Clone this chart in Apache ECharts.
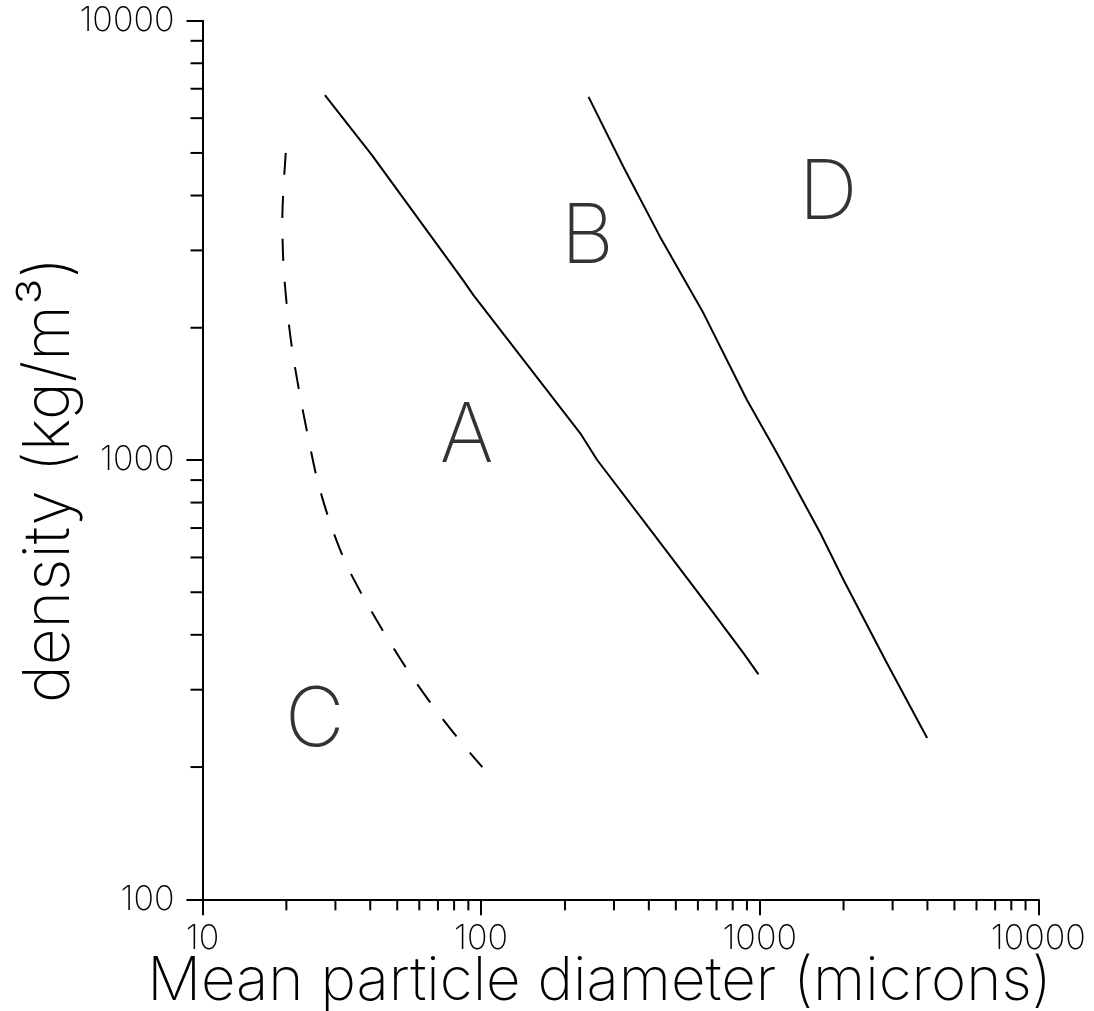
<!DOCTYPE html>
<html>
<head>
<meta charset="utf-8">
<script src="https://cdn.jsdelivr.net/npm/echarts@6/dist/echarts.min.js"></script>
<style>
  html, body { margin: 0; padding: 0; background: #fff; }
  #chart { width: 1094px; height: 1011px; }
</style>
</head>
<body>
<div id="chart"></div>
<script>
// ---- data ----
const boundaryAB = [[27.5, 6770], [40.5, 4950], [86, 2570], [94, 2370], [227, 1150], [261, 1000], [415, 680], [680, 450], [873, 364], [990, 325]];
const boundaryBD = [[243, 6710], [324, 4650], [439, 3220], [628, 2160], [900, 1370], [1153, 1037], [1650, 682], [2000, 533], [2860, 345], [3990, 233]];
const boundaryAC = [[19.9, 5000], [19.35, 3550], [19.5, 2830], [20.1, 2230], [21.0, 1780], [22.3, 1420], [23.9, 1134], [25.8, 904], [28.5, 730], [32.5, 587], [38.3, 480], [45.9, 395], [55.6, 326], [68.4, 271], [85.2, 227], [101, 200]];
const regionNames = ['A', 'B', 'C', 'D'];
const regionX = [88.7, 241, 25.3, 1760];
const regionY = [1128, 3190, 254, 4030];
const xMinorTicks = [20, 30, 40, 50, 60, 70, 80, 90, 200, 300, 400, 500, 600, 700, 800, 900, 2000, 3000, 4000, 5000, 6000, 7000, 8000, 9000];
const yMinorTicks = [200, 300, 400, 500, 600, 700, 800, 900, 2000, 3000, 4000, 5000, 6000, 7000, 8000, 9000];
const xTitle = 'Mean particle diameter (microns)';
const yTitle = 'density (kg/m\u00B3)';

const FONT = 'Inter, "Open Sans", "DejaVu Sans", sans-serif';
const chart = echarts.init(document.getElementById('chart'), null, { renderer: 'canvas' });

const lineStyleBase = { color: '#000', width: 2 };
const plain = v => String(Math.round(v));

chart.setOption({
  backgroundColor: '#fff',
  animation: false,
  grid: { left: 202.5, right: 55.7, top: 20.7, bottom: 111.7, containLabel: false, outerBoundsMode: 'none' },
  xAxis: {
    type: 'log', logBase: 10, min: 10, max: 10000,
    axisLine: { show: true, lineStyle: { color: '#000', width: 2 } },
    axisTick: { show: true, inside: false, length: 16, lineStyle: { color: '#000', width: 2 } },
    axisLabel: { color: '#000', fontSize: 34, fontFamily: FONT, fontWeight: 200, margin: 22, formatter: plain },
    splitLine: { show: false },
    name: xTitle, nameLocation: 'middle', nameGap: 53, nameMoveOverlap: false,
    nameTextStyle: { color: '#000', fontSize: 60, fontFamily: FONT, fontWeight: 150, padding: [0, 42, 0, 0] }
  },
  yAxis: {
    type: 'log', logBase: 10, min: 100, max: 10000,
    axisLine: { show: true, lineStyle: { color: '#000', width: 2 } },
    axisTick: { show: true, inside: false, length: 16, lineStyle: { color: '#000', width: 2 } },
    axisLabel: { color: '#000', fontSize: 34, fontFamily: FONT, fontWeight: 200, margin: 28, formatter: plain },
    splitLine: { show: false },
    name: yTitle, nameLocation: 'middle', nameGap: 121, nameRotate: 90, nameMoveOverlap: false,
    nameTextStyle: { color: '#000', fontSize: 64, fontFamily: FONT, fontWeight: 150, padding: [0, 40, 0, 0] }
  },
  series: [
    { type: 'line', data: boundaryAB, symbol: 'none', lineStyle: lineStyleBase, silent: true },
    { type: 'line', data: boundaryBD, symbol: 'none', lineStyle: lineStyleBase, silent: true },
    { type: 'line', data: boundaryAC, symbol: 'none', smooth: 0.3, lineStyle: { color: '#000', width: 2, type: [22, 21] }, silent: true },
    {
      type: 'scatter', symbolSize: 0, silent: true,
      data: regionNames.map((n, i) => ({ name: n, value: [regionX[i], regionY[i]] })),
      label: { show: true, position: 'inside', formatter: '{b}', color: '#000', fontSize: 82, fontFamily: FONT, fontWeight: 200 }
    },
    {
      type: 'custom', silent: true, clip: false,
      data: xMinorTicks.map(v => [v, 100]),
      renderItem: (params, api) => {
        const p = api.coord([api.value(0), api.value(1)]);
        return { type: 'line', shape: { x1: p[0], y1: p[1], x2: p[0], y2: p[1] + 11 }, style: { stroke: '#000', lineWidth: 2 } };
      }
    },
    {
      type: 'custom', silent: true, clip: false,
      data: yMinorTicks.map(v => [10, v]),
      renderItem: (params, api) => {
        const p = api.coord([api.value(0), api.value(1)]);
        return { type: 'line', shape: { x1: p[0] - 12, y1: p[1], x2: p[0], y2: p[1] }, style: { stroke: '#000', lineWidth: 2 } };
      }
    }
  ]
});
</script>
</body>
</html>
